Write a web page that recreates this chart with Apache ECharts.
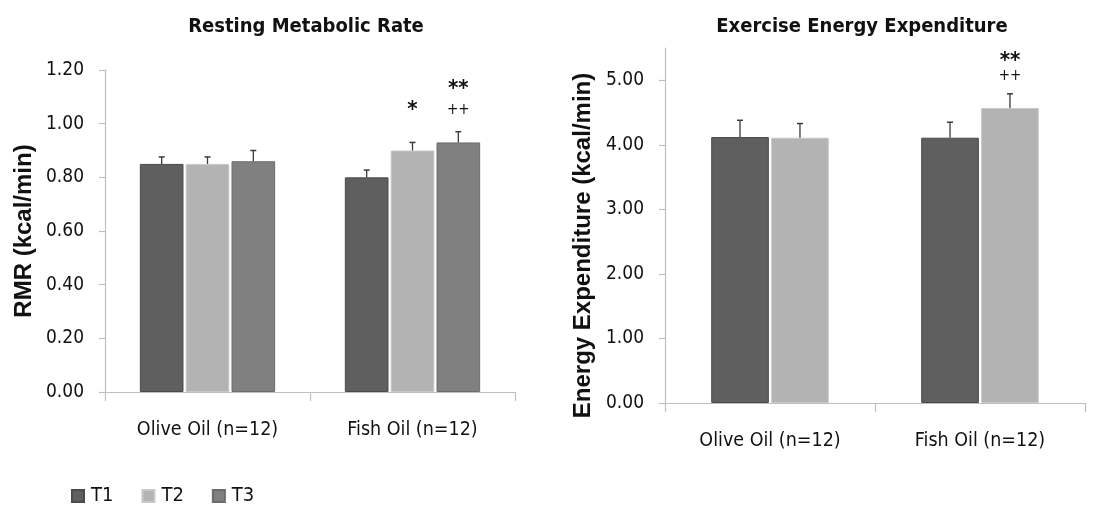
<!DOCTYPE html>
<html>
<head>
<meta charset="utf-8">
<script src="https://cdn.jsdelivr.net/npm/echarts@6/dist/echarts.min.js"></script>
<style>
html,body{margin:0;padding:0;background:#fff;}
#chart{width:1102px;height:506px;}
</style>
</head>
<body>
<div id="chart"></div>
<script>
// ---- data ----
const categories = ['Olive Oil (n=12)', 'Fish Oil (n=12)'];
const seriesNames = ['T1', 'T2', 'T3'];
// Resting Metabolic Rate (kcal/min)
const rmrT1 = [0.85, 0.80];
const rmrT2 = [0.85, 0.90];
const rmrT3 = [0.86, 0.93];
const rmrErrT1 = [0.026, 0.027];
const rmrErrT2 = [0.026, 0.03];
const rmrErrT3 = [0.04, 0.04];
// Exercise Energy Expenditure (kcal/min)
const eeT1 = [4.12, 4.11];
const eeT2 = [4.11, 4.57];
const eeErrT1 = [0.26, 0.24];
const eeErrT2 = [0.22, 0.22];
// significance annotations: [category index, series index, y value, text]
const rmrMarks = [[1, 1, 1.05, '*'], [1, 2, 1.13, '**'], [1, 2, 1.05, '++']];
const eeMarks = [[1, 1, 5.29, '**'], [1, 1, 5.06, '++']];
const rmrTicks = [0, 0.2, 0.4, 0.6, 0.8, 1.0, 1.2];
const eeTicks = [0, 1, 2, 3, 4, 5];

const FONT = "'DejaVu Sans Condensed', 'Liberation Sans', sans-serif";
const FONT_V = "'Liberation Sans', sans-serif";
const colors = ['#5f5f5f', '#b3b3b3', '#808080'];
const borders = ['#4a4a4a', '#c8c8c8', '#6c6c6c'];
const axisGray = '#bfbfbf';

const chart = echarts.init(document.getElementById('chart'));

const layouts = [
  { catGap: 0.34, barGap: 0.05, n: 3 },
  { catGap: 0.44, barGap: 0.04, n: 2 }
];

function barOffset(band, li, si) {
  const L = layouts[li];
  const usable = band * (1 - L.catGap);
  const bw = usable / (L.n + (L.n - 1) * L.barGap);
  return { off: -usable / 2 + si * bw * (1 + L.barGap) + bw / 2, bw: bw };
}

function errSeries(li, si, vals, errs) {
  return {
    type: 'custom',
    xAxisIndex: li, yAxisIndex: li,
    z: 5,
    silent: true,
    data: vals.map((v, i) => [i, v, errs[i]]),
    renderItem: function (params, api) {
      const ci = api.value(0);
      const v = api.value(1);
      const e = api.value(2);
      const base = api.coord([ci, v]);
      const top = api.coord([ci, v + e]);
      const band = api.size([1, 0])[0];
      const o = barOffset(band, li, si);
      const x = base[0] + o.off;
      return {
        type: 'group',
        children: [
          { type: 'line', shape: { x1: x, y1: base[1], x2: x, y2: top[1] }, style: { stroke: '#3a3a3a', lineWidth: 1.3 } },
          { type: 'line', shape: { x1: x - 3, y1: top[1], x2: x + 3, y2: top[1] }, style: { stroke: '#3a3a3a', lineWidth: 1.5 } }
        ]
      };
    }
  };
}

function markSeries(li, marks) {
  return {
    type: 'custom',
    xAxisIndex: li, yAxisIndex: li,
    z: 6,
    silent: true,
    data: marks.map(m => [m[0], m[2], m[1], m[3]]),
    renderItem: function (params, api) {
      const ci = api.value(0);
      const y = api.value(1);
      const si = api.value(2);
      const txt = marks[params.dataIndex][3];
      const p = api.coord([ci, y]);
      const band = api.size([1, 0])[0];
      const o = barOffset(band, li, si);
      const isPlus = txt.indexOf('+') >= 0;
      return {
        type: 'text',
        style: {
          x: p[0] + o.off, y: p[1],
          text: txt,
          align: 'center', verticalAlign: 'middle',
          font: (isPlus ? '15px ' : 'bold 22px ') + FONT,
          fill: '#111'
        }
      };
    }
  };
}

function barSeries(li, si, vals) {
  return {
    name: seriesNames[si],
    type: 'bar',
    xAxisIndex: li, yAxisIndex: li,
    data: vals,
    barCategoryGap: (layouts[li].catGap * 100) + '%',
    barGap: (layouts[li].barGap * 100) + '%',
    itemStyle: { color: colors[si], borderColor: borders[si], borderWidth: 1 },
    emphasis: { disabled: true }
  };
}

const xAxisCommon = {
  type: 'category',
  data: categories,
  axisLine: { lineStyle: { color: axisGray, width: 1.2 } },
  axisTick: { show: true, alignWithLabel: false, length: 9, lineStyle: { color: axisGray, width: 1.2 } },
  axisLabel: { color: '#111', fontSize: 19.5, fontFamily: FONT, margin: 28, interval: 0 }
};

function yAxisCommon(li, max, interval, ticks, name, digits) {
  return {
    type: 'value',
    gridIndex: li,
    min: 0, max: max, interval: interval,
    name: name,
    nameLocation: 'middle',
    nameGap: li === 0 ? 69 : 70,
    nameTextStyle: { color: '#111', fontSize: 24, fontWeight: 'bold', fontFamily: FONT_V,
      padding: li === 0 ? 0 : [0, 40, 0, 0] },
    splitLine: { show: false },
    axisLine: { show: true, lineStyle: { color: axisGray, width: 1.2 } },
    axisTick: { show: true, length: 6, customValues: ticks, lineStyle: { color: axisGray, width: 1.2 } },
    axisLabel: { color: '#111', fontSize: 19, fontFamily: FONT, margin: 21, customValues: ticks,
      formatter: v => v.toFixed(digits) }
  };
}

chart.setOption({
  animation: false,
  backgroundColor: '#fff',
  title: [
    { text: 'Resting Metabolic Rate', left: 301, top: 12, textAlign: 'center',
      textStyle: { fontSize: 20, fontWeight: 'bold', color: '#111', fontFamily: FONT } },
    { text: 'Exercise Energy Expenditure', left: 857, top: 12, textAlign: 'center',
      textStyle: { fontSize: 20, fontWeight: 'bold', color: '#111', fontFamily: FONT } }
  ],
  legend: {
    data: seriesNames,
    left: 66, top: 481,
    itemWidth: 12, itemHeight: 12, itemGap: 28,
    icon: 'rect',
    textStyle: { color: '#111', fontSize: 20, fontFamily: FONT, padding: [0, 0, 0, 2] }
  },
  grid: [
    { left: 105, top: 70, width: 410, height: 322 },
    { left: 665, top: 48, width: 420, height: 355 }
  ],
  xAxis: [
    Object.assign({ gridIndex: 0 }, xAxisCommon),
    Object.assign({ gridIndex: 1 }, xAxisCommon)
  ],
  yAxis: [
    yAxisCommon(0, 1.2, 0.2, rmrTicks, 'RMR (kcal/min)', 2),
    yAxisCommon(1, 5.5, 0.5, eeTicks, 'Energy Expenditure (kcal/min)', 2)
  ],
  series: [
    barSeries(0, 0, rmrT1),
    barSeries(0, 1, rmrT2),
    barSeries(0, 2, rmrT3),
    barSeries(1, 0, eeT1),
    barSeries(1, 1, eeT2),
    errSeries(0, 0, rmrT1, rmrErrT1),
    errSeries(0, 1, rmrT2, rmrErrT2),
    errSeries(0, 2, rmrT3, rmrErrT3),
    errSeries(1, 0, eeT1, eeErrT1),
    errSeries(1, 1, eeT2, eeErrT2),
    markSeries(0, rmrMarks),
    markSeries(1, eeMarks)
  ]
});
</script>
</body>
</html>
